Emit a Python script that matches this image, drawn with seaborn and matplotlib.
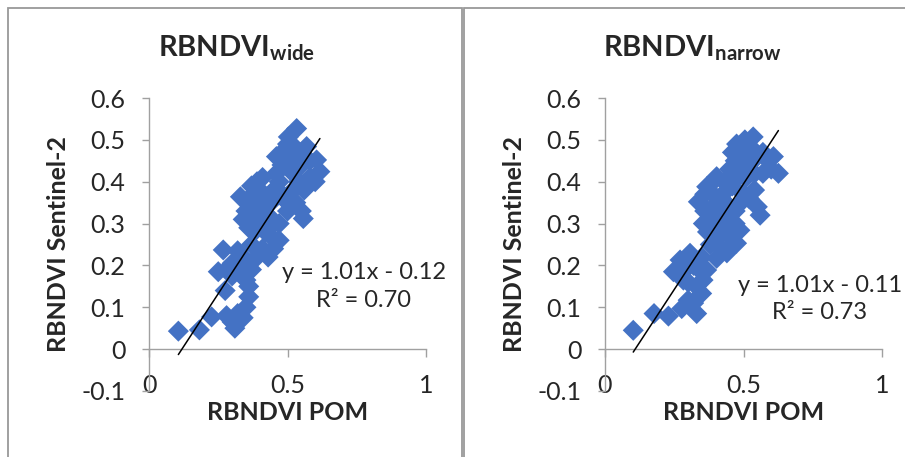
import numpy as np
import pandas as pd
import matplotlib
matplotlib.use('Agg')
import matplotlib.pyplot as plt
from matplotlib.patches import Rectangle
import seaborn as sns

# values
wide_pom = [0.106, 0.182, 0.226, 0.28, 0.30, 0.31, 0.32, 0.34, 0.35, 0.36, 0.36, 0.35,
            0.275, 0.25, 0.28, 0.30, 0.33, 0.35, 0.37, 0.268, 0.32, 0.34, 0.30,
            0.37, 0.39, 0.41, 0.43, 0.45, 0.47, 0.44, 0.42, 0.38, 0.36, 0.40, 0.45, 0.47,
            0.34, 0.35, 0.37, 0.39, 0.41, 0.43, 0.36, 0.38, 0.40, 0.42, 0.44, 0.37, 0.39,
            0.41, 0.45, 0.48, 0.50, 0.33,
            0.50, 0.53, 0.55, 0.557, 0.52, 0.54, 0.56, 0.58, 0.60, 0.617, 0.605, 0.58, 0.569,
            0.46, 0.48, 0.46, 0.48, 0.50, 0.52, 0.50, 0.503, 0.533, 0.53, 0.55, 0.55, 0.52, 0.47]
wide_s2 = [0.043, 0.046, 0.077, 0.080, 0.065, 0.050, 0.085, 0.075, 0.10, 0.125, 0.15, 0.165,
           0.14, 0.185, 0.19, 0.175, 0.185, 0.20, 0.19, 0.237, 0.235, 0.22, 0.205,
           0.25, 0.22, 0.24, 0.22, 0.24, 0.26, 0.27, 0.28, 0.28, 0.29, 0.30, 0.30, 0.30,
           0.31, 0.33, 0.32, 0.34, 0.33, 0.32, 0.36, 0.37, 0.38, 0.36, 0.35, 0.39, 0.40,
           0.41, 0.38, 0.37, 0.35, 0.364,
           0.33, 0.35, 0.33, 0.312, 0.38, 0.40, 0.38, 0.41, 0.40, 0.424, 0.452, 0.45, 0.484,
           0.42, 0.44, 0.46, 0.47, 0.45, 0.46, 0.49, 0.507, 0.527, 0.48, 0.47, 0.44, 0.42, 0.40]

narrow_pom = [0.102, 0.177, 0.229, 0.277, 0.30, 0.331, 0.32, 0.349, 0.354, 0.33, 0.30,
              0.283, 0.247, 0.271, 0.29, 0.307, 0.32, 0.34, 0.367, 0.35,
              0.38, 0.403, 0.42, 0.44, 0.46, 0.475, 0.487, 0.45, 0.43, 0.40, 0.37, 0.355,
              0.38, 0.41, 0.44, 0.47,
              0.337, 0.36, 0.39, 0.42, 0.45, 0.47, 0.49, 0.36, 0.367, 0.39, 0.42, 0.44,
              0.403, 0.39, 0.43, 0.46, 0.50, 0.52, 0.55, 0.56, 0.54,
              0.45, 0.47, 0.49, 0.46, 0.475, 0.505, 0.535, 0.50, 0.52, 0.53, 0.55, 0.57,
              0.59, 0.608, 0.626, 0.60, 0.57, 0.54, 0.51, 0.48]
narrow_s2 = [0.045, 0.085, 0.079, 0.097, 0.117, 0.085, 0.11, 0.133, 0.165, 0.15, 0.16,
             0.165, 0.185, 0.213, 0.19, 0.229, 0.20, 0.19, 0.189, 0.22,
             0.25, 0.217, 0.24, 0.23, 0.25, 0.253, 0.284, 0.27, 0.28, 0.27, 0.28, 0.30,
             0.31, 0.30, 0.31, 0.30,
             0.352, 0.33, 0.34, 0.33, 0.34, 0.33, 0.35, 0.37, 0.388, 0.37, 0.36, 0.38,
             0.412, 0.40, 0.40, 0.39, 0.37, 0.36, 0.34, 0.32, 0.38,
             0.43, 0.45, 0.43, 0.47, 0.49, 0.50, 0.507, 0.47, 0.45, 0.48, 0.46, 0.47,
             0.45, 0.46, 0.42, 0.43, 0.42, 0.42, 0.41, 0.41]

# trendline slope, intercept, R2 as printed on the chart
wide_fit = (1.01, -0.12, 0.70)
narrow_fit = (1.01, -0.11, 0.73)

panels = [
    ("wide", wide_pom, wide_s2, wide_fit),
    ("narrow", narrow_pom, narrow_s2, narrow_fit),
]

sns.set_style("white")
plt.rcParams['font.family'] = ['Lato', 'DejaVu Sans']
plt.rcParams['mathtext.fontset'] = 'custom'
plt.rcParams['mathtext.rm'] = 'Lato'
plt.rcParams['mathtext.bf'] = 'Lato:bold'
plt.rcParams['axes.unicode_minus'] = False

blue = '#4472C4'
axis_gray = '#a0a0a0'

fig = plt.figure(figsize=(9.05, 4.57), dpi=100)

# panel frames (Excel chart borders)
fig.patches.append(Rectangle((8 / 905, -0.05), 454 / 905, 1.05 - 8 / 457,
                             transform=fig.transFigure, fill=False,
                             edgecolor='#999999', lw=1.3))
fig.patches.append(Rectangle((464 / 905, -0.05), 0.6, 1.05 - 8 / 457,
                             transform=fig.transFigure, fill=False,
                             edgecolor='#999999', lw=1.3))

lefts = [149 / 905, 605 / 905]
eq_pos = [(0.776, 0.357), (0.776, 0.314)]

for (name, xs, ys, fit), left, (ex, ey) in zip(panels, lefts, eq_pos):
    ax = fig.add_axes([left, 66 / 457, 277 / 905, 293 / 457])
    df = pd.DataFrame({"pom": xs, "s2": ys})

    sns.scatterplot(data=df, x="pom", y="s2", marker="D", color=blue,
                    s=115, edgecolor="none", linewidth=0, ax=ax, zorder=2)

    slope, icpt, r2 = fit
    xl = np.array([min(xs), max(xs)])
    ax.plot(xl, slope * xl + icpt, color='black', lw=1.1, zorder=3)

    ax.set_xlim(0, 1)
    ax.set_ylim(-0.1, 0.6)
    ax.set_xticks([0, 0.5, 1])
    ax.set_xticklabels(["0", "0.5", "1"])
    yt = np.round(np.arange(-0.1, 0.61, 0.1), 1)
    ax.set_yticks(yt)
    ax.set_yticklabels(["0" if v == 0 else f"{v:g}" for v in yt])

    for s in ['top', 'right']:
        ax.spines[s].set_visible(False)
    ax.spines['bottom'].set_position(('data', 0))
    for s in ['left', 'bottom']:
        ax.spines[s].set_color(axis_gray)
        ax.spines[s].set_linewidth(1.0)

    ax.tick_params(axis='y', direction='out', length=5, width=1.0,
                   color=axis_gray, labelsize=18, pad=12, left=True)
    ax.tick_params(axis='x', direction='out', length=6, width=1.0,
                   color=axis_gray, labelsize=18, pad=12, bottom=True)

    ax.set_xlabel("RBNDVI POM", fontsize=18, fontweight='bold')
    ax.set_ylabel("RBNDVI Sentinel-2", fontsize=18, fontweight='bold')
    ax.yaxis.set_label_coords(-0.285, 0.5)
    ax.xaxis.set_label_coords(0.5, -0.035)

    ax.text(0.314, 1.143, r"$\mathbf{RBNDVI}_{\mathbf{" + name + r"}}$",
            transform=ax.transAxes, ha='center', va='baseline', fontsize=21)

    sign = '-' if icpt < 0 else '+'
    ax.text(ex, ey, f"y = {slope:.2f}x {sign} {abs(icpt):.2f}\nR² = {r2:.2f}",
            transform=ax.transAxes, ha='center', va='center',
            multialignment='center', linespacing=1.4, fontsize=17)

fig.savefig("out.png", dpi=100)
